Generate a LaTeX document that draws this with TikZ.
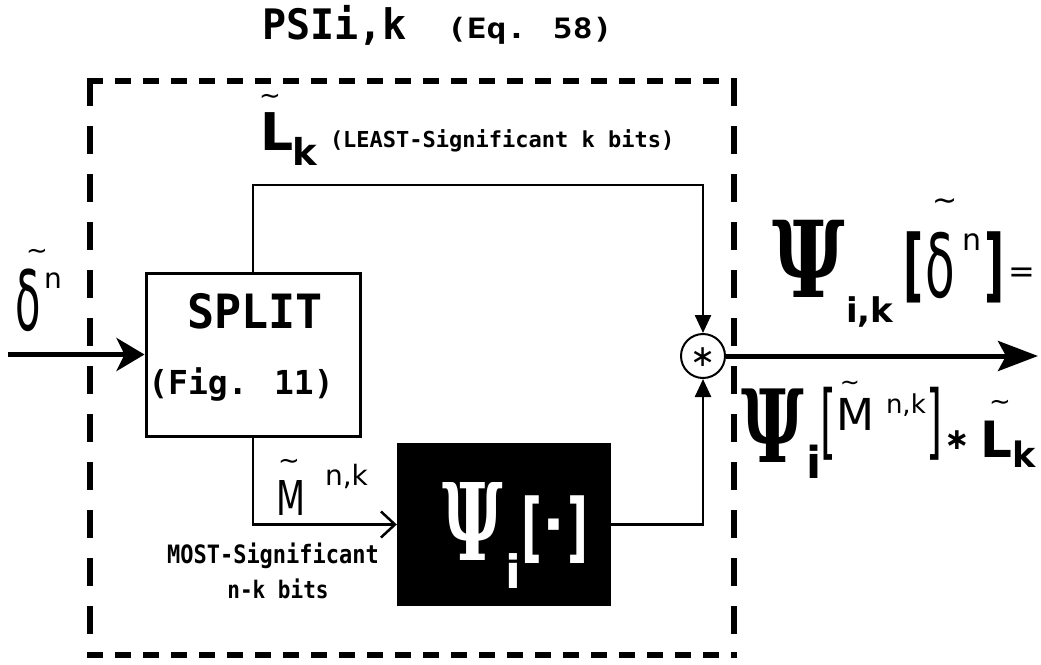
\documentclass[tikz,border=0pt]{standalone}
\usepackage{fontspec}
\setmainfont{DejaVu Sans}
\newfontfamily\monofont{DejaVu Sans Mono}
\newfontfamily\psifont{DejaVu Serif}
\usetikzlibrary{arrows.meta}
\newcommand\fs[1]{\fontsize{#1}{#1}\selectfont}
\newcommand\tld[1]{\fs{#1}\textasciitilde}
\begin{document}
\begin{tikzpicture}[x=1pt,y=-1pt,
  lbl/.style={inner sep=0pt, outer sep=0pt, anchor=base west},
  ctr/.style={inner sep=0pt, outer sep=0pt},
  conn/.style={line width=2.5pt},
  heavy/.style={line width=5pt},
  hd/.style={line width=6pt, dash pattern=on 16pt off 12pt},
  vd/.style={line width=6pt, dash pattern=on 28pt off 20pt},
  boxshape/.style={minimum width=214pt, minimum height=163pt, inner sep=0pt},
  tip/.style={-{Triangle[length=18pt,width=16pt]}}
]
\useasboundingbox (0,0) rectangle (1041,664);

% title
\node[lbl] (title1) at (262,39) {\scalebox{1}[1.05]{\monofont\bfseries\fs{40}PSIi,k}};
\node[lbl] (title2) at (447,38) {\scalebox{1}[0.85]{\monofont\bfseries\fs{33}(Eq. 58)}};

% dashed frame
\draw[hd] (87,81) -- (737,81);
\draw[hd] (87,655) -- (737,655);
\draw[vd] (90,78) -- (90,658);
\draw[vd] (734,78) -- (734,658);

% blocks
\node[draw, line width=3pt, boxshape] (split) at (253,354.5) {};
\node[lbl, anchor=base] (splitT) at (255,328) {\scalebox{1}[1.05]{\monofont\bfseries\fs{45}SPLIT}};
\node[lbl, anchor=base] (splitF) at (241,394) {\monofont\bfseries\fs{33}(Fig. 11)};

\node[fill=black, boxshape] (psi) at (504,524.5) {};
\node[lbl, text=white] (psiP) at (442,560) {\scalebox{0.62}[1]{\psifont\bfseries\fs{107}Ψ}};
\node[lbl, text=white] (psiI) at (505,588) {\bfseries\fs{46}i};
\node[lbl, text=white] (psiL) at (521,553) {\scalebox{0.6}[1]{\bfseries\fs{76}[}};
\node[ctr, text=white] (psiD) at (554,532) {\bfseries\fs{60}·};
\node[lbl, text=white] (psiR) at (567,553) {\scalebox{0.6}[1]{\bfseries\fs{76}]}};

\node[circle, draw, line width=2pt, minimum size=44pt, inner sep=0pt] (mul) at (703,356) {};
\node[ctr] (mulA) at (703,357) {\fs{30}∗};

% connectors
\coordinate (inS) at (8,354.5);
\draw[heavy, -{Stealth[length=28pt,width=33pt,inset=8pt]}] (inS) -- (split.west);
\coordinate (tc) at (703,185);
\draw[conn, tip] (split.north) |- (tc) -- (mul.north);
\draw[conn, -{Straight Barb[length=14pt,width=26pt,line width=2.5pt]}] (split.south) |- (psi.west);
\draw[conn, tip] (psi.east) -| (mul.south);
\coordinate (outE) at (1038,356);
\draw[heavy, -{Stealth[length=40pt,width=30pt,inset=8pt]}] (mul.east) -- (outE);

% L~_k label
\node[lbl] (Lk) at (260,150) {\bfseries\fs{52}L};
\node[ctr] (LkT) at (270,99) {\tld{26}};
\node[lbl] (LkS) at (292,165) {\bfseries\fs{37}k};
\node[lbl] (least) at (330,147) {\monofont\bfseries\fs{22}(LEAST-Significant k bits)};

% delta input label
\node[lbl] (din) at (16,330) {\scalebox{0.5}[1]{\fs{83}δ}};
\node[ctr] (dinT) at (37,254) {\tld{26}};
\node[lbl] (dinN) at (44,288) {\fs{28}n};

% M~^{n,k}
\node[lbl] (Mnk) at (276,515) {\scalebox{0.7}[1]{\fs{48}M}};
\node[ctr] (MnkT) at (289,464) {\tld{26}};
\node[lbl] (MnkS) at (325,485) {\fs{28}n,k};
\node[lbl, anchor=base] (most) at (273,563) {\scalebox{1}[1.15]{\monofont\bfseries\fs{22}MOST-Significant}};
\node[lbl, anchor=base] (nkb) at (278,598) {\scalebox{1}[1.15]{\monofont\bfseries\fs{21}n-k bits}};

% output expression 1
\node[lbl] (o1psi) at (772,297) {\scalebox{0.75}[1]{\psifont\bfseries\fs{106}Ψ}};
\node[lbl] (o1sub) at (846,322) {\bfseries\fs{34}i,k};
\node[lbl] (o1lb) at (903,292) {\scalebox{0.55}[1]{\bfseries\fs{80}[}};
\node[lbl] (o1d) at (925,297) {\scalebox{0.55}[1]{\fs{88}δ}};
\node[ctr] (o1t) at (945,205) {\tld{30}};
\node[lbl] (o1n) at (962,250) {\fs{30}n};
\node[lbl] (o1rb) at (984,292) {\scalebox{0.55}[1]{\bfseries\fs{80}]}};
\node[lbl] (o1eq) at (1008,282) {\fs{32}=};

% output expression 2
\node[lbl] (o2psi) at (741,462) {\scalebox{0.68}[1]{\psifont\bfseries\fs{101}Ψ}};
\node[lbl] (o2i) at (806,478) {\bfseries\fs{44}i};
\node[lbl] (o2lb) at (820,449) {\scalebox{0.5}[1]{\fs{82}[}};
\node[lbl] (o2m) at (836,430) {\fs{44}M};
\node[ctr] (o2mt) at (850,386) {\tld{24}};
\node[lbl] (o2nk) at (886,413) {\fs{26}n,k};
\node[lbl] (o2rb) at (926,449) {\scalebox{0.5}[1]{\fs{82}]}};
\node[ctr] (o2ast) at (957,440) {\bfseries\fs{30}∗};
\node[lbl] (o2L) at (980,457) {\bfseries\fs{50}L};
\node[ctr] (o2Lt) at (1000,405) {\tld{26}};
\node[lbl] (o2k) at (1012,467) {\bfseries\fs{35}k};
\end{tikzpicture}
\end{document}
